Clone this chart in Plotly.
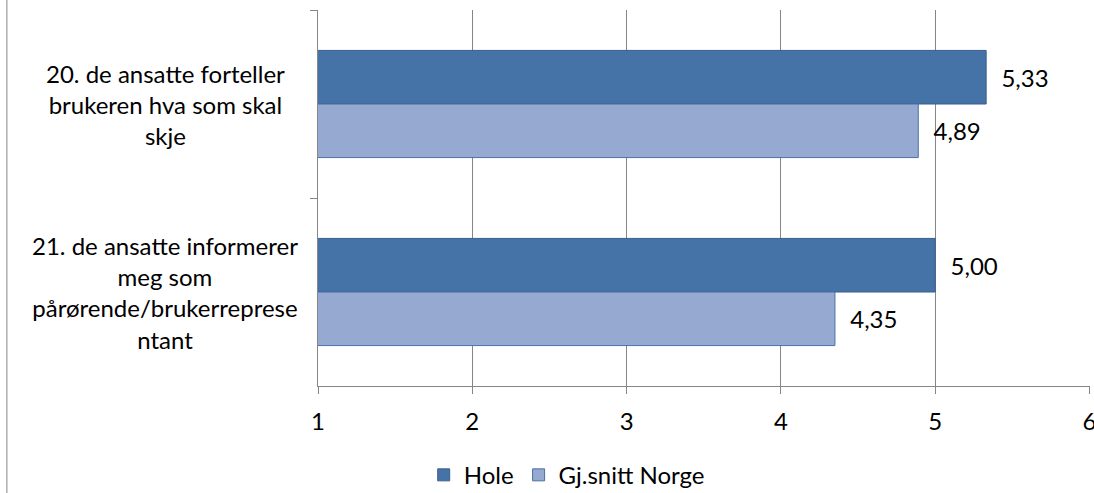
import plotly.graph_objects as go

categories = [
    "20. de ansatte forteller<br>brukeren hva som skal<br>skje",
    "21. de ansatte informerer<br>meg som<br>pårørende/brukerreprese<br>ntant",
]
cat_keys = ["q20", "q21"]
hole = [5.33, 5.00]
norge = [4.89, 4.35]
series_names = ["Hole", "Gj.snitt Norge"]
x_ticks = [1, 2, 3, 4, 5, 6]

FONT = "Lato"
FS = 24
GRID = "#868686"

fig = go.Figure()
fig.add_trace(go.Bar(
    y=cat_keys, x=hole, name=series_names[0], orientation="h",
    marker=dict(color="#4572A7", line=dict(color="#3A5F8C", width=1)),
    texttemplate="\u00a0\u00a0%{x:.2f}", textposition="outside",
    textfont=dict(family=FONT, size=FS, color="black"), cliponaxis=False,
))
fig.add_trace(go.Bar(
    y=cat_keys, x=norge, name=series_names[1], orientation="h",
    marker=dict(color="#95A9D1", line=dict(color="#4A6FA5", width=1)),
    texttemplate="\u00a0\u00a0%{x:.2f}", textposition="outside",
    textfont=dict(family=FONT, size=FS, color="black"), cliponaxis=False,
))

annotations = []
for key, label in zip(cat_keys, categories):
    annotations.append(dict(
        x=-0.198, xref="paper", y=key, yref="y", text=label, showarrow=False,
        xanchor="center", yanchor="middle", align="center",
        font=dict(family=FONT, size=FS, color="black"),
    ))

fig.update_layout(
    width=1094, height=493,
    margin=dict(l=318, r=4, t=10, b=107, autoexpand=False),
    paper_bgcolor="white", plot_bgcolor="white",
    barmode="group", bargap=0.43, bargroupgap=0,
    separators=", ",
    font=dict(family=FONT, size=FS, color="black"),
    showlegend=True,
    legend=dict(orientation="h", x=0.518, xref="container", xanchor="center",
                y=0.036, yref="container", yanchor="middle",
                font=dict(family=FONT, size=FS, color="black"),
                itemwidth=30, tracegroupgap=0),
    annotations=annotations,
    shapes=[dict(type="line", xref="paper", yref="paper",
                 x0=-0.403, x1=-0.403, y0=-0.2846, y1=1.0266,
                 line=dict(color=GRID, width=1))],
    xaxis=dict(range=[1, 6.003], tickvals=x_ticks, ticktext=[str(v) for v in x_ticks],
               showgrid=True, gridcolor=GRID, gridwidth=1,
               showline=True, linecolor=GRID, linewidth=1,
               ticks="outside", ticklen=7, tickcolor=GRID, automargin=False,
               ticklabelstandoff=7, ticklabeloverflow="allow", zeroline=False,
               tickfont=dict(family=FONT, size=FS, color="black")),
    yaxis=dict(range=[1.5, -0.5], type="category", showticklabels=False,
               showgrid=False, showline=True, linecolor=GRID, linewidth=1,
               ticks="outside", ticklen=7, tickcolor=GRID, tickson="boundaries",
               zeroline=False, automargin=False),
)

fig.write_html("out.html", config={"displayModeBar": False},
               post_script="document.body.style.margin='0';")
